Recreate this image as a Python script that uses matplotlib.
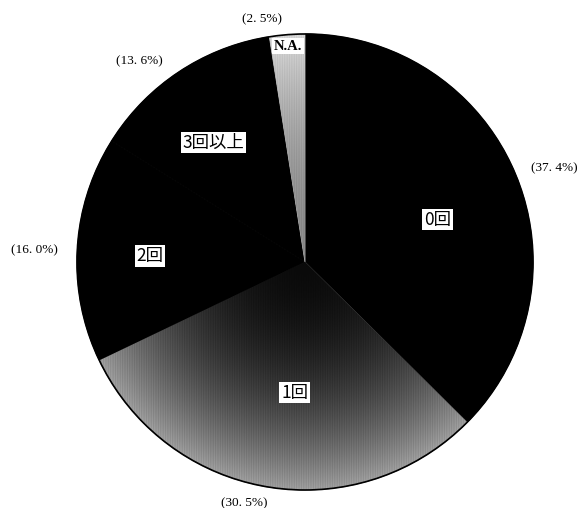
import numpy as np
import matplotlib
matplotlib.use("Agg")
import matplotlib.pyplot as plt

# ---- data ----
categories = ["0回", "1回", "2回", "3回以上", "N.A."]
values = [37.4, 30.5, 16.0, 13.6, 2.5]
pct_labels = ["(37. 4%)", "(30. 5%)", "(16. 0%)", "(13. 6%)", "(2. 5%)"]

# ---- style / layout ----
colors = ["black", "#3c3c3c", "black", "black", "#b4b4b4"]
label_r = [0.61, 0.575, 0.68, 0.66, 0.95]
label_da = [5, -5, -1, -4, 0]
pct_r = [1.17, 1.09, 1.19, 1.14, 1.08]
pct_da = [2, 4.5, -0.7, -6, -5.6]

W, H = 582, 508
cx, cy, R = 305, 262, 228

fig = plt.figure(figsize=(W / 100, H / 100), dpi=100)
ax = fig.add_axes([0, 0, 1, 1])

wedges, _ = ax.pie(values, colors=colors, startangle=90, counterclock=False,
                   wedgeprops=dict(linewidth=0.6))
for w in wedges:
    w.set_edgecolor(w.get_facecolor())

ax.set_xlim(-cx / R, (W - cx) / R)
ax.set_ylim(-(H - cy) / R, cy / R)
ax.set_aspect("equal")
ax.axis("off")

# radial gradient texture for the grey slices
n = 700
xs = np.linspace(-1, 1, n)
X, Y = np.meshgrid(xs, xs)
Rr = np.sqrt(X ** 2 + Y ** 2)
Z1 = np.clip(0.04 + 0.52 * Rr ** 2.2 + 0.1 * Rr * np.cos(X * 300) ** 2, 0, 1)
im = ax.imshow(Z1, extent=[-1, 1, -1, 1], origin="lower", cmap="gray",
               vmin=0, vmax=1, zorder=2, interpolation="bilinear")
im.set_clip_path(wedges[1])
Z2 = np.clip(0.5 + 0.3 * Rr ** 2 + 0.08 * np.cos(X * 300) ** 2, 0, 1)
im2 = ax.imshow(Z2, extent=[-1, 1, -1, 1], origin="lower", cmap="gray",
                vmin=0, vmax=1, zorder=2, interpolation="bilinear")
im2.set_clip_path(wedges[4])

circ = plt.Circle((0, 0), 1, fill=False, ec="black", lw=1.2, zorder=3)
ax.add_patch(circ)

cum = 0.0
total = sum(values)
for i, v in enumerate(values):
    mid = (cum + v / 2) / total * 360.0
    cum += v
    a = np.deg2rad(90 - (mid + label_da[i]))
    x, y = label_r[i] * np.cos(a), label_r[i] * np.sin(a)
    if categories[i] == "N.A.":
        ax.text(x, y, categories[i], family=["Liberation Serif"], fontweight="bold",
                fontsize=10.5, ha="center", va="center", zorder=5,
                bbox=dict(boxstyle="square,pad=0.12", fc="white", ec="none"))
    else:
        ax.text(x, y, categories[i], family=["Noto Sans CJK JP", "DejaVu Sans"],
                fontsize=12.5, ha="center", va="center", zorder=5,
                bbox=dict(boxstyle="square,pad=0.1", fc="white", ec="none"))
    a2 = np.deg2rad(90 - (mid + pct_da[i]))
    ax.text(pct_r[i] * np.cos(a2), pct_r[i] * np.sin(a2), pct_labels[i],
            family=["Liberation Serif"], fontsize=9.5, ha="center", va="center",
            zorder=5)

fig.savefig("out.png", dpi=100, facecolor="white")
